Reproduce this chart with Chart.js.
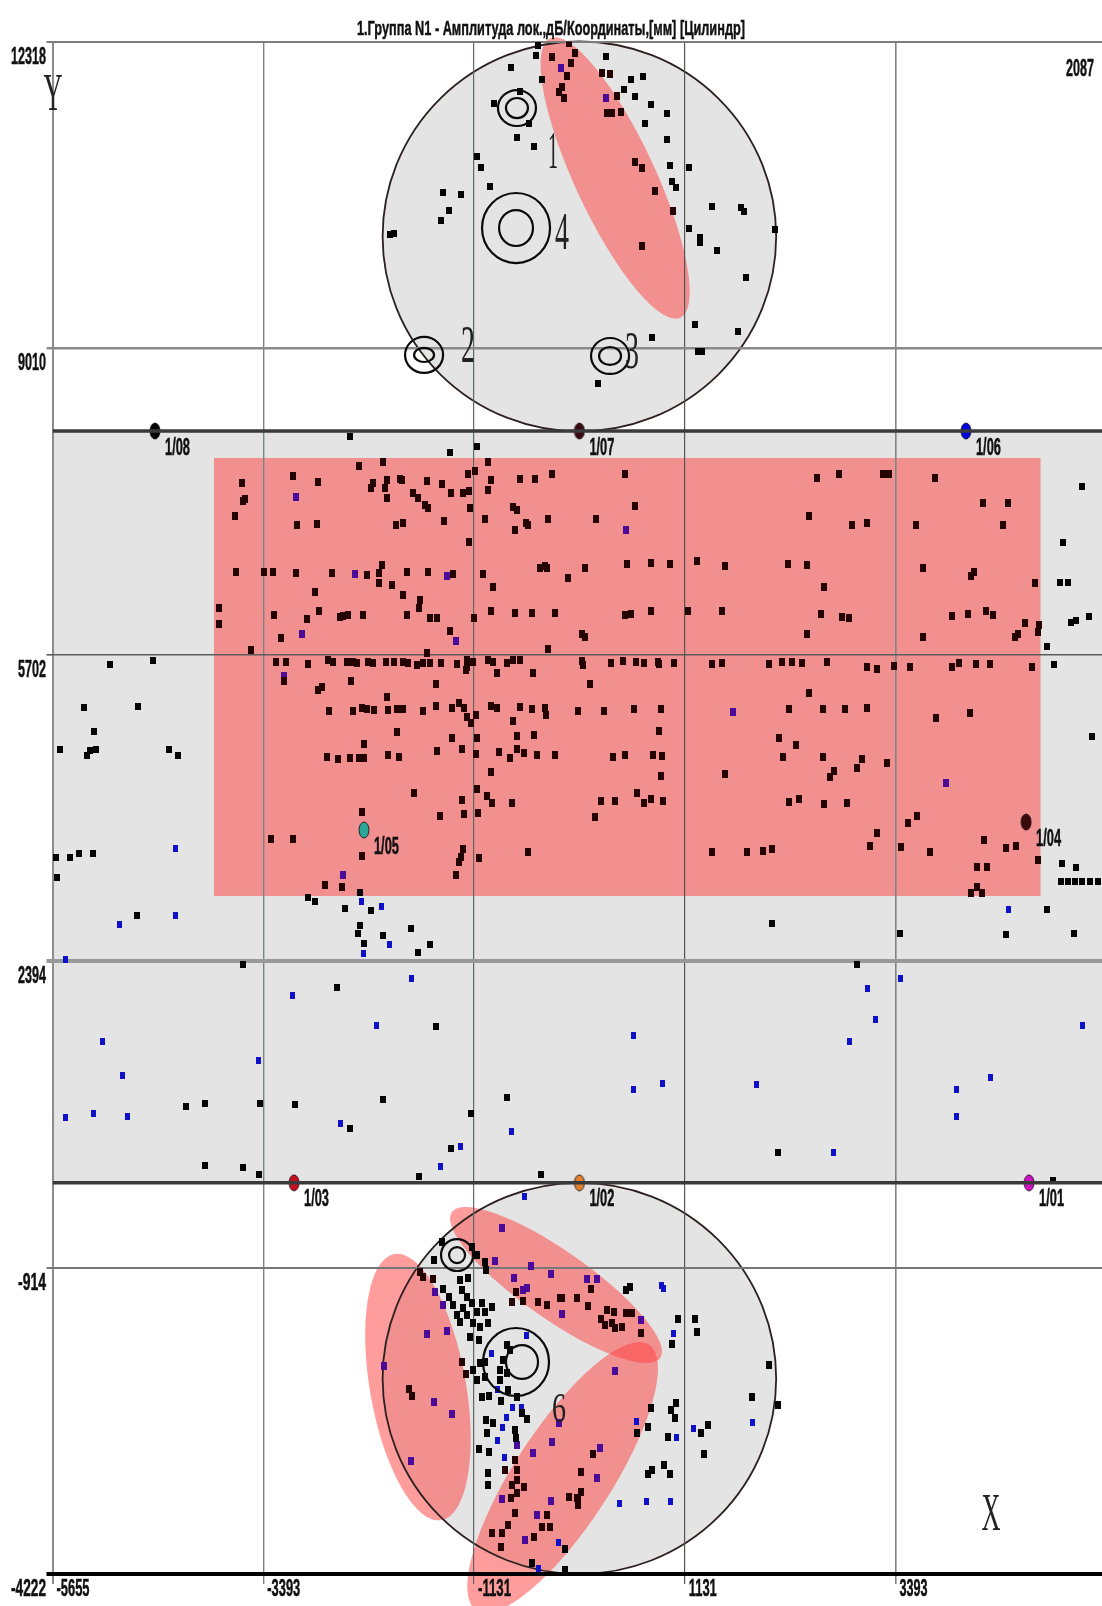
<!DOCTYPE html>
<html>
<head>
<meta charset="utf-8">
<title>1.Группа N1</title>
<style>
html, body { margin: 0; padding: 0; background: #fff; }
canvas { display: block; filter: blur(0.6px); }
</style>
<script src="https://cdn.jsdelivr.net/npm/chart.js@4/dist/chart.umd.min.js"></script>
</head>
<body>
<canvas id="chart" width="1102" height="1606"></canvas>
<script>
const titleText = "1.Группа N1 - Амплитуда лок.,дБ/Координаты,[мм] [Цилиндр]";
const xTicks = [-5655, -3393, -1131, 1131, 3393];
const yTicks = [12318, 9010, 5702, 2394, -914, -4222];
const xMin = -5655, xMax = 5609;

// cylinder outline, mm
const bodyTop = 8114, bodyBottom = 0;
const capX = [0, 0], capY = [10214, -2111], capRx = [2112, 2112], capRy = [2104, 2111];

// red zones: rectangle on the shell, ellipses on the caps [x, y, a, b, angle]
const zoneRect = [-3922, 7823, 4949, 3096];
const zoneEllipses = [
    [384, 10845, 1655, 430, 65],
    [-1733, -2204, 1450, 515, 80],
    [-251, -1103, 1365, 365, 35],
    [-180, -3180, 1700, 520, -57]
];

// black rings on the caps [x, y, rx, ry]
const rings = [
    [-670, 11600, 204, 194], [-670, 11600, 118, 108],
    [-680, 10305, 365, 378], [-680, 10305, 182, 194],
    [-1667, 8935, 204, 194], [-1667, 8935, 107, 76],
    [329, 8924, 204, 194], [329, 8924, 118, 97],
    [-1313, -780, 172, 172], [-1313, -780, 86, 86],
    [-680, -1934, 354, 367], [-616, -1934, 172, 183]
];

const sensorNames = ["1/01", "1/02", "1/03", "1/04", "1/05", "1/06", "1/07", "1/08"];
const sensorX = [4826, 0, -3063, 4794, -2312, 4149, 0, -4555];
const sensorY = [0, 0, 0, 3894, 3808, 8114, 8114, 8114];
const sensorColors = ["#d010c0", "#e08030", "#c41020", "#3a0a0a", "#2aa79a", "#0000e0", "#3a0a14", "#000000"];

const sideNotes = ["1", "2", "3", "4", "6", "Y", "X"];
const sideNoteX = [-283, -1195, 565, -187, -219, -5650, 4418];
const sideNoteY = [11104, 9010, 8945, 10230, -2463, 11731, -3595];
const cornerValue = "2087", cornerX = 5373, cornerY = 12011;

// events outside the red zones
const blackPoints = [
    [-734,12032],[-466,12172],[-444,12280],[-401,11913],[-916,11654],[-637,11773],[-541,11438],[-670,11277],[-487,11190],
    [-1099,11082],[-1056,10953],[-960,10758],[-1464,10683],[-1270,10672],[-1400,10489],[-1486,10381],[-2033,10240],[-1990,10251],
    [285,12151],[554,11913],[683,11935],[479,11795],[597,11719],[769,11633],[941,11546],[704,11438],[941,11255],[973,10985],
    [1177,10953],[994,10802],[1037,10737],[1424,10532],[1735,10521],[1767,10478],[2099,10294],[1177,10305],[1295,10208],[1295,10154],
    [1477,10057],[1789,9776],[1241,9269],[1703,9183],[780,9118],[1273,8967],[1316,8967],[200,8632],
    [-2462,8060],[-1388,7877],[-1099,7942],
    [5395,7510],[5191,6906],[5158,6484],[5245,6484],[5277,6042],[5331,6064],[5470,6117],[5019,5783],[5094,5599],[5502,4822],
    [-5038,5599],[-4576,5632],[-5317,5125],[-4737,5146],[-5209,4876],[-5574,4682],[-5285,4617],[-5252,4671],[-5188,4682],[-4405,4682],[-4308,4617],
    [-5617,3506],[-5467,3516],[-5370,3559],[-5220,3559],[-5607,3290],[-4748,2880],
    [5180,3441],[5331,3398],[5169,3257],[5245,3257],[5320,3257],[5395,3257],[5480,3257],[5566,3257],[5019,2955],[2068,2804],[3441,2696],[4579,2685],[5309,2696],
    [-2913,3084],[-2838,3041],[-2516,2966],[-2355,3138],[-2237,2934],[-1807,2750],[-2356,2782],[-2377,2696],[-2108,2674],[-2312,2588],[-1732,2491],[-1603,2577],
    [-3610,2361],[-2602,2113],[-1539,1682],[2980,2361],
    [-4222,829],[-4018,861],[-3429,861],[-3053,850],[-2108,894],[-777,926],[-1163,753],[-2462,591],[-1378,365],
    [-4018,192],[-3610,160],[-3439,95],[-1721,73],[-412,95],[2132,332],[5083,30]
];
const bluePoints = [
    [-4340,3603],[-4931,2793],[-4340,2880],[-2334,3041],[-2119,2987],[-2312,2480],[-2033,2577],[-5511,2415],
    [-3082,2027],[-1797,2210],[-2173,1703],[-5123,1520],[-3439,1315],[-4899,1153],[-5511,710],[-5220,753],[-4845,721],
    [-2559,645],[-724,559],[-1281,397],[-1496,171],[-584,-143],
    [586,1595],[586,1012],[897,1077],[1896,1056],[3088,2092],[3174,1768],[2894,1520],[3441,2200],[5395,1703],[4408,1142],[4050,1002],[4050,721],[2722,332],[4601,2955],
    [-573,-1643],[-938,-1837],[-884,-2226],[-723,-2420],[-616,-2420],[-777,-2538],[-820,-2636],[-874,-2776],[-809,-2970],
    [-219,-3877],[-434,-4158],[908,-1136],[886,-1103],[1005,-1621],[618,-2571],[1854,-2582],[1230,-2657],[1037,-2744],[435,-3456],[715,-3435],[983,-3435]
];
const bottomBlackPoints = [
    [-1474,-639],[-1560,-834],[-1152,-693],[-1098,-780],[-1013,-855],[-1002,-941],[-1464,-1147],[-1400,-1233],
    [-1281,-1049],[-1195,-1028],[-1260,-1157],[-1206,-1233],[-1357,-1319],[-1249,-1352],[-1314,-1427],[-1206,-1427],[-1281,-1503],
    [-1152,-1298],[-1044,-1298],[-1013,-1395],[-1098,-1395],[-938,-1341],[-981,-1513],[-1141,-1513],[-1066,-1557],[-1174,-1664],[-1077,-1697],
    [-1013,-1934],[-1066,-1945],[-1141,-2021],[-1098,-2128],[-1013,-2096],[-777,-1751],[-745,-1805],[-820,-1913],[-852,-2021],[-777,-2053],[-852,-2128],[-766,-2236],
    [-1044,-2312],[-970,-2301],[-842,-2355],[-670,-2312],[-616,-2485],[-562,-2549],[-1002,-2560],[-927,-2592],[-991,-2701],[-1077,-2873],[-970,-2905],[-981,-3133],[-981,-3262],
    [-691,-2668],[-680,-2755],[-509,-4104],[-154,-3953],[-154,-4180],
    [500,-1157],[540,-1125],[1058,-1470],[1241,-1470],[1262,-1610],[994,-1740],[2036,-1967],[1854,-2312],[768,-2431],[1037,-2377],[983,-2452],[1026,-2538],
    [618,-2701],[736,-2636],[1380,-2614],[1305,-2701],[951,-2744],[1337,-2927],[736,-3143],[779,-3100],[908,-3046],[972,-3143],[2132,-2400]
];

// black events seen through a red zone
const darkPoints = [
    [-112,12302],[-47,12194],[-90,12086],[-133,11946],[-186,11827],[-219,11773],[-165,11708],[-294,12151],[243,11978],[329,11967],[404,11730],
    [350,11546],[296,11546],[446,11557],[597,11018],[672,10953],[812,10705],[1005,10489],[672,10111],
    [-2366,7736],[-2108,7780],[-981,7780],[-1120,7683],[-1195,7650],[-3621,7553],[-3589,7380],[-3610,7359],[-3696,7197],[-3074,7629],[-2806,7564],[-3031,7100],[-2817,7110],
    [-2216,7553],[-2237,7499],[-2065,7585],[-2087,7499],[-1925,7596],[-1900,7590],[-2065,7391],[-1635,7575],[-1474,7542],[-1378,7445],[-1249,7445],[-1184,7467],[-948,7585],[-981,7477],[-637,7596],[-476,7596],
    [-1785,7445],[-1732,7391],[-1657,7315],[-1625,7283],[-1174,7283],[-713,7294],[-670,7262],[-1969,7100],[-1893,7121],[-1453,7143],[-1013,7164],[-691,7046],[-573,7121],[-548,7100],[-337,7164],[-1184,6916],
    [-3685,6592],[-3385,6592],[-3288,6592],[-3042,6582],[-2656,6582],[-2280,6560],[-2119,6668],[-2151,6582],[-2151,6474],[-1850,6592],[-1625,6592],[-1356,6571],[-1034,6571],[-423,6636],[-348,6636],[-369,6657],[-2012,6452],[-927,6430],[-2838,6376],[-1893,6344],
    [-1711,6290],[-1721,6204],[-3868,6204],[-3868,6031],[-3278,6128],[-2924,6085],[-2795,6171],[-2570,6107],[-2538,6117],[-2484,6128],[-2323,6128],[-1850,6128],[-1603,6096],[-1528,6096],[-1131,6096],[-948,6171],[-691,6150],[-509,6150],
    [-3203,5880],[-1389,5956],[-3525,5751],[-1635,5718],[-337,5761],
    [-3256,5621],[-3149,5621],[-2913,5599],[-2698,5643],[-2645,5621],[-2495,5621],[-2430,5621],[-2387,5610],[-2269,5621],[-2216,5610],[-2076,5621],[-1990,5621],[-1893,5621],[-1839,5610],[-1743,5589],[-1678,5610],[-1603,5610],[-1485,5610],[-1313,5599],[-1206,5643],[-1206,5567],[-1141,5621],[-981,5643],[-927,5621],[-777,5610],[-713,5643],[-637,5643],[-1217,5535],[-884,5502],[-498,5502],
    [28,5632],[39,5590],[339,5610],[468,5632],[607,5621],[693,5610],[843,5621],[854,5600],[1015,5610],[1423,5599],[1530,5610],[2036,5599],[2175,5621],[2282,5621],[2389,5610],[2658,5621],[3088,5567],[3195,5546],[3377,5578],[3549,5567],[3999,5567],[4075,5610],[4257,5599],[4408,5599],[4858,5567],
    [-3171,5416],[-2452,5416],[-2806,5319],[-2763,5351],[-1539,5384],[114,5384],[2464,5286],
    [-2688,5092],[-2430,5092],[-2334,5125],[-2280,5114],[-2205,5103],[-2065,5243],[-2055,5103],[-1958,5114],[-1893,5114],[-1678,5092],[-1539,5146],[-1367,5125],[-1292,5179],[-1238,5125],[-1206,5027],[-1163,4963],[-1109,5049],[-948,5146],[-884,5125],[-713,4984],[-637,5135],[-509,5114],[-369,5125],[-358,5049],
    [-15,5092],[264,5092],[586,5114],[875,5114],[2250,5114],[2615,5114],[2851,5114],[3088,5125],[3828,5017],[4192,5071],[854,4876],
    [2143,4801],[2325,4725],[-1958,4866],[-1367,4801],[-1098,4801],[-670,4822],[-487,4833],[-2312,4736],
    [-2709,4596],[-2591,4574],[-2462,4585],[-2366,4585],[-2312,4585],[-2055,4617],[-1937,4596],[-1528,4660],[-1260,4682],[-1109,4628],[-863,4650],[-745,4585],[-670,4682],[-594,4639],[-455,4617],
    [-262,4617],[360,4596],[489,4617],[790,4617],[886,4607],[2186,4596],[2615,4596],[3034,4574],[2980,4477],[3302,4531],[2733,4445],[2690,4380],[875,4391],[1563,4412],
    [-948,4434],[-1775,4207],[-1098,4250],[-991,4175],[-938,4099],[-1260,4132],[-723,4099],[-1496,3959],[-1238,3980],[-1088,3991],[-2334,4002],
    [232,4121],[382,4121],[618,4207],[693,4099],[768,4142],[897,4121],[2250,4110],[2357,4142],[2626,4088],[2872,4099],[168,3948],[3624,3959],[3527,3883],[3195,3775],[3120,3635],[3452,3624],[3763,3570],[4343,3700],[4579,3613],[4687,3635],[4923,3484],
    [1423,3570],[1800,3570],[1971,3581],[2068,3603],[4268,3408],[4375,3408],[4203,3128],[4268,3193],[4322,3128],
    [-3310,3711],[-3074,3711],[-2334,3527],[-1249,3603],[-1270,3516],[-1292,3462],[-1077,3506],[-552,3570],[-1324,3322],[-2548,3193],[-2731,3214],
    [-294,7650],[489,7650],[3259,7650],[3323,7650],[2550,7607],[2787,7650],[3817,7607],[4332,7337],[4601,7337],[596,7300],[2464,7197],[178,7164],[2926,7100],[3088,7121],[3613,7100],[4547,7100],
    [60,6636],[511,6679],[768,6690],[972,6679],[1262,6711],[1563,6657],[2239,6679],[2443,6668],[3688,6636],[4235,6592],[4203,6549],[-122,6528],[2626,6430],[4890,6474],
    [-262,6150],[489,6128],[554,6139],[768,6171],[1165,6171],[1530,6171],[2593,6139],[2819,6107],[2894,6096],[3999,6117],[4171,6139],[4365,6171],[4440,6128],
    [28,5923],[60,5891],[2443,5923],[3688,5891],[4783,6042],[4708,5923],[4676,5891],[4933,6020],[4923,5945]
];
const darkBottomPoints = [
    [-1711,-963],[-1678,-1017],[-1571,-1039],[-1260,-1934],[-1217,-2064],[-1829,-2226],[-1796,-2301],
    [-723,-1288],[-680,-1180],[-605,-1276],[-444,-1287],[-348,-1319],[-208,-1244],[-25,-1244],[125,-1147],[-187,-1244],[93,-1330],
    [232,-1470],[296,-1373],[371,-1395],[275,-1535],[350,-1513],[382,-1567],[457,-1557],[500,-1406],[564,-1406],[661,-1621],
    [-691,-2992],[-670,-3100],[-799,-3100],[-670,-3208],[-723,-3262],[-594,-3284],[-670,-3348],[-734,-3402],[-691,-3564],[-766,-3694],[-938,-3780],[-831,-3780],[-842,-3931],[-487,-3823],[-401,-3715],[-348,-3586],[-315,-3715],[-111,-3391],[-15,-3402],
    [146,-2927],[17,-3122],[17,-3338],[-25,-3402],[-111,-3391],[-15,-3478]
];
const violetPoints = [
    [-197,12032],[285,11708],[-3042,7402],[499,7046],[-2409,6571],[-1421,6549],[-2979,5923],[-1324,5848],[-3171,5470],[1649,5082],[3935,4315],[-2538,3322],
    [-831,-488],[-906,-844],[-519,-898],[-305,-984],[-702,-1028],[-562,-1136],[-605,-1157],[-187,-1416],[-1550,-1179],[-1464,-1319],[-1635,-1632],[-1421,-1600],[-2097,-1977],[-1560,-2366],[-1367,-2495],[-1807,-3003],
    [-670,-2830],[-498,-2916],[-294,-2798],[-219,-2592],[-831,-3413],[-305,-3435],[-455,-3586],[-584,-3856],[82,-1039],[189,-1039],[661,-1481],[382,-2031],[221,-2862],[189,-3186]
];

// style of the grid, one entry per tick
const xGridColors = ["#8c8c8c", "#7a8484", "#5f6868", "#555555", "#7f8585"];
const xGridWidths = [2, 1.4, 1.2, 1.2, 1.6];
const yGridColors = ["#7d7d7d", "#8a8a8a", "#5c5c5c", "#999999", "#777777", "#000000"];
const yGridWidths = [2, 2.4, 1.6, 4, 2, 4];

function makeDot(w, h, color) {
    const c = document.createElement("canvas");
    c.width = w;
    c.height = h;
    const g = c.getContext("2d");
    g.fillStyle = color;
    g.fillRect(0, 0, w, h);
    return c;
}

function makeOval(color) {
    const c = document.createElement("canvas");
    c.width = 12;
    c.height = 18;
    const g = c.getContext("2d");
    g.beginPath();
    g.ellipse(6, 9, 5, 8, 0, 0, Math.PI * 2);
    g.fillStyle = color;
    g.fill();
    g.strokeStyle = "rgba(20,10,10,0.8)";
    g.stroke();
    return c;
}

function toPoints(list) {
    return list.map(p => ({ x: p[0], y: p[1] }));
}

function dotSet(label, list, w, h, color) {
    return { type: "scatter", label: label, data: toPoints(list), pointStyle: makeDot(w, h, color), pointRadius: 3, showLine: false };
}

function bodyLine(y) {
    return {
        type: "line", label: "body", data: [{ x: xMin, y: y }, { x: xMax, y: y }],
        borderColor: "#3a3a3a", borderWidth: 3.4, pointRadius: 0
    };
}

function squeezed(ctx, text, x, y, font, width, align, color, weight) {
    ctx.save();
    ctx.font = font;
    ctx.fillStyle = color || "#111";
    ctx.textAlign = align || "left";
    ctx.textBaseline = "middle";
    ctx.fillText(text, x, y, width);
    if (weight) {
        ctx.lineWidth = weight;
        ctx.strokeStyle = color || "#111";
        ctx.strokeText(text, x, y, width);
    }
    ctx.restore();
}

const shapesPlugin = {
    id: "shapes",
    beforeDraw(chart) {
        const ctx = chart.ctx, xs = chart.scales.x, ys = chart.scales.y;
        const dx = v => Math.abs(xs.getPixelForValue(v) - xs.getPixelForValue(0));
        const dy = v => Math.abs(ys.getPixelForValue(v) - ys.getPixelForValue(0));
        ctx.save();
        ctx.fillStyle = "#ffffff";
        ctx.fillRect(0, 0, chart.width, chart.height);

        // grey cylinder
        ctx.fillStyle = "#e4e4e4";
        ctx.fillRect(xs.left, ys.getPixelForValue(bodyTop), xs.right - xs.left, ys.getPixelForValue(bodyBottom) - ys.getPixelForValue(bodyTop));
        capX.forEach((x, i) => {
            ctx.beginPath();
            ctx.ellipse(xs.getPixelForValue(x), ys.getPixelForValue(capY[i]), dx(capRx[i]), dy(capRy[i]), 0, 0, Math.PI * 2);
            ctx.fill();
        });

        // red zones
        ctx.fillStyle = "rgba(255,60,60,0.5)";
        const rx0 = xs.getPixelForValue(zoneRect[0]), ry0 = ys.getPixelForValue(zoneRect[1]);
        ctx.fillRect(rx0, ry0, xs.getPixelForValue(zoneRect[2]) - rx0, ys.getPixelForValue(zoneRect[3]) - ry0);
        zoneEllipses.forEach(z => {
            ctx.beginPath();
            ctx.ellipse(xs.getPixelForValue(z[0]), ys.getPixelForValue(z[1]), dx(z[2]), dx(z[3]), z[4] * Math.PI / 180, 0, Math.PI * 2);
            ctx.fill();
        });

        // the caps' outline stays visible through the zones
        ctx.lineWidth = 1.8;
        ctx.strokeStyle = "#2c2020";
        capX.forEach((x, i) => {
            ctx.beginPath();
            ctx.ellipse(xs.getPixelForValue(x), ys.getPixelForValue(capY[i]), dx(capRx[i]), dy(capRy[i]), 0, 0, Math.PI * 2);
            ctx.stroke();
        });
        ctx.restore();
    },
    afterDatasetsDraw(chart) {
        const ctx = chart.ctx, xs = chart.scales.x, ys = chart.scales.y;
        const dx = v => Math.abs(xs.getPixelForValue(v) - xs.getPixelForValue(0));
        const dy = v => Math.abs(ys.getPixelForValue(v) - ys.getPixelForValue(0));
        ctx.save();
        ctx.lineWidth = 2.2;
        ctx.strokeStyle = "#0a0a0a";
        rings.forEach(r => {
            ctx.beginPath();
            ctx.ellipse(xs.getPixelForValue(r[0]), ys.getPixelForValue(r[1]), dx(r[2]), dy(r[3]), 0, 0, Math.PI * 2);
            ctx.stroke();
        });
        ctx.restore();

        const sans = "bold 23px 'Liberation Sans Narrow', 'Liberation Sans', sans-serif";
        squeezed(ctx, titleText, chart.width / 2, 29, "bold 21px 'Liberation Sans Narrow', 'Liberation Sans', sans-serif", 388, "center", "#111", 0.5);

        ys.ticks.forEach((t, i) => {
            squeezed(ctx, String(t.value), 46, ys.getPixelForTick(i) + 16, sans, String(t.value).length > 4 ? 35 : 28, "right", "#111", 0.5);
        });
        xs.ticks.forEach((t, i) => {
            squeezed(ctx, String(t.value), xs.getPixelForTick(i) + 4, ys.bottom + 16, sans, String(t.value).length > 4 ? 33 : 28, "left", "#111", 0.5);
        });
        squeezed(ctx, cornerValue, xs.getPixelForValue(cornerX), ys.getPixelForValue(cornerY), sans, 28, "center", "#111", 0.5);

        sensorNames.forEach((name, i) => {
            squeezed(ctx, name, xs.getPixelForValue(sensorX[i]) + 10, ys.getPixelForValue(sensorY[i]) + 17, "bold 24px 'Liberation Sans Narrow', 'Liberation Sans', sans-serif", 25, "left", "#111", 0.5);
        });

        sideNotes.forEach((note, i) => {
            const big = note === "Y" || note === "X";
            squeezed(ctx, note, xs.getPixelForValue(sideNoteX[i]), ys.getPixelForValue(sideNoteY[i]),
                (note === "6" ? 42 : 52) + "px 'Liberation Serif', serif", big ? 19 : (note === "1" ? 10 : 14), "center", "#222");
        });
    }
};

const chart = new Chart(document.getElementById("chart").getContext("2d"), {
    data: {
        datasets: [
            bodyLine(bodyTop),
            bodyLine(bodyBottom),
            dotSet("black", blackPoints, 6, 7, "#050505"),
            dotSet("black, cap", bottomBlackPoints, 6, 8, "#050505"),
            dotSet("blue", bluePoints, 5, 7, "#1010c8"),
            dotSet("dark", darkPoints, 6, 8, "#240303"),
            dotSet("dark, cap", darkBottomPoints, 6, 8, "#240303"),
            dotSet("violet", violetPoints, 6, 8, "#4a0c98"),
            {
                type: "scatter", label: "sensors",
                data: sensorX.map((x, i) => ({ x: x, y: sensorY[i] })),
                pointStyle: sensorColors.map(makeOval), pointRadius: 6, showLine: false
            }
        ]
    },
    options: {
        responsive: false,
        animation: false,
        events: [],
        layout: { autoPadding: false, padding: { top: 41.5, left: 0, right: 0, bottom: 0 } },
        plugins: { legend: { display: false }, title: { display: false }, tooltip: { enabled: false } },
        scales: {
            x: {
                type: "linear", min: xMin, max: xMax,
                afterBuildTicks: scale => { scale.ticks = xTicks.map(v => ({ value: v })); },
                afterFit: scale => { scale.height = 32; },
                ticks: { display: false, autoSkip: false },
                border: { display: false },
                grid: {
                    tickLength: 10,
                    color: c => xGridColors[c.index],
                    lineWidth: c => xGridWidths[c.index]
                }
            },
            y: {
                type: "linear", min: -4222, max: 12318,
                afterBuildTicks: scale => { scale.ticks = yTicks.map(v => ({ value: v })); },
                afterFit: scale => { scale.width = 52.5; },
                ticks: { display: false, autoSkip: false },
                border: { display: false },
                grid: {
                    tickLength: 6,
                    color: c => yGridColors[c.index],
                    lineWidth: c => yGridWidths[c.index]
                }
            }
        }
    },
    plugins: [shapesPlugin]
});
</script>
</body>
</html>
